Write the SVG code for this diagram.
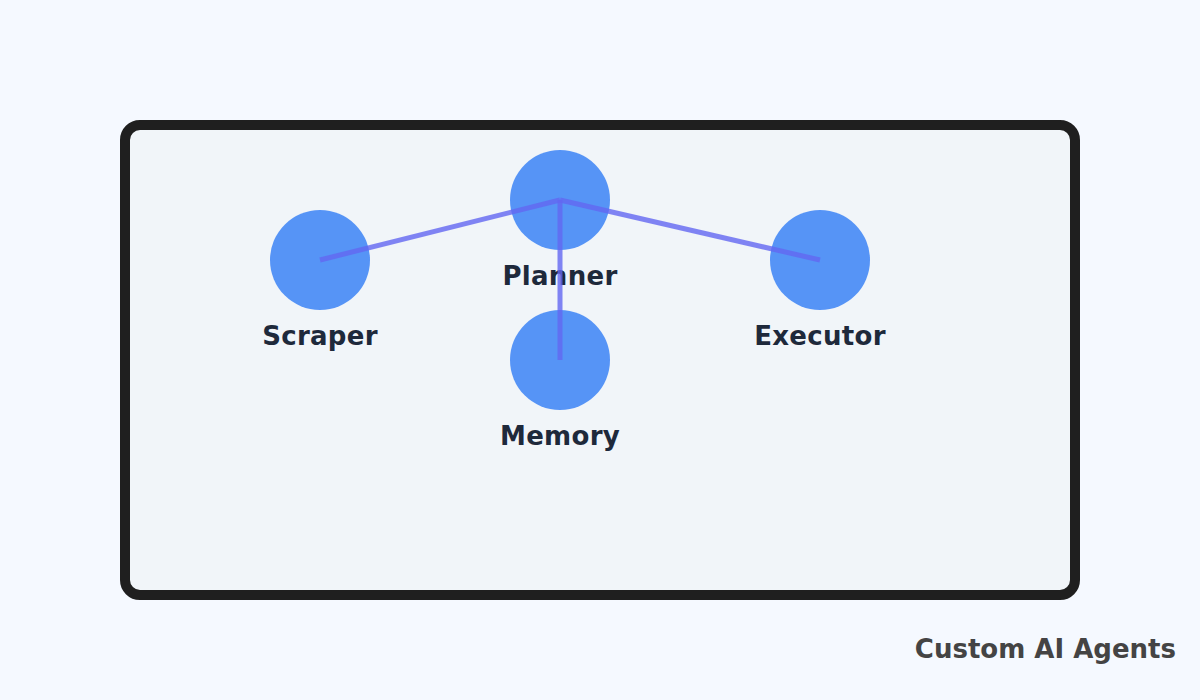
<svg xmlns="http://www.w3.org/2000/svg" width="1200" height="700" viewBox="0 0 1200 700">
  <style>
    .node { fill: #3b82f6; fill-opacity: 0.85; }
    .label { font-family: "DejaVu Sans", "Liberation Sans", sans-serif; font-weight: bold; font-size: 26px; letter-spacing: 0.3px; fill: #1e293b; text-anchor: middle; }
    .edge { stroke: #6366f1; stroke-opacity: 0.8; stroke-width: 5; fill: none; }
    .title { font-family: "DejaVu Sans", "Liberation Sans", sans-serif; font-weight: bold; font-size: 26px; fill: #444444; text-anchor: end; }
  </style>
  <rect x="0" y="0" width="1200" height="700" fill="#f5f9ff"/>
  <rect id="frame" x="125" y="125" width="950" height="470" rx="15" ry="15" fill="#f1f5f9" stroke="#1f1f1f" stroke-width="10"/>
  <g id="planner">
    <circle class="node" cx="560" cy="200" r="50"/>
    <text class="label" x="560" y="285">Planner</text>
  </g>
  <g id="scraper">
    <circle class="node" cx="320" cy="260" r="50"/>
    <text class="label" x="320" y="345">Scraper</text>
  </g>
  <g id="executor">
    <circle class="node" cx="820" cy="260" r="50"/>
    <text class="label" x="820" y="345">Executor</text>
  </g>
  <g id="memory">
    <circle class="node" cx="560" cy="360" r="50"/>
    <text class="label" x="560" y="445">Memory</text>
  </g>
  <g id="connectors">
    <line class="edge" x1="560" y1="200" x2="320" y2="260"/>
    <line class="edge" x1="560" y1="200" x2="820" y2="260"/>
    <line class="edge" x1="560" y1="200" x2="560" y2="360"/>
  </g>
  <text class="title" x="1176" y="658">Custom AI Agents</text>
</svg>
